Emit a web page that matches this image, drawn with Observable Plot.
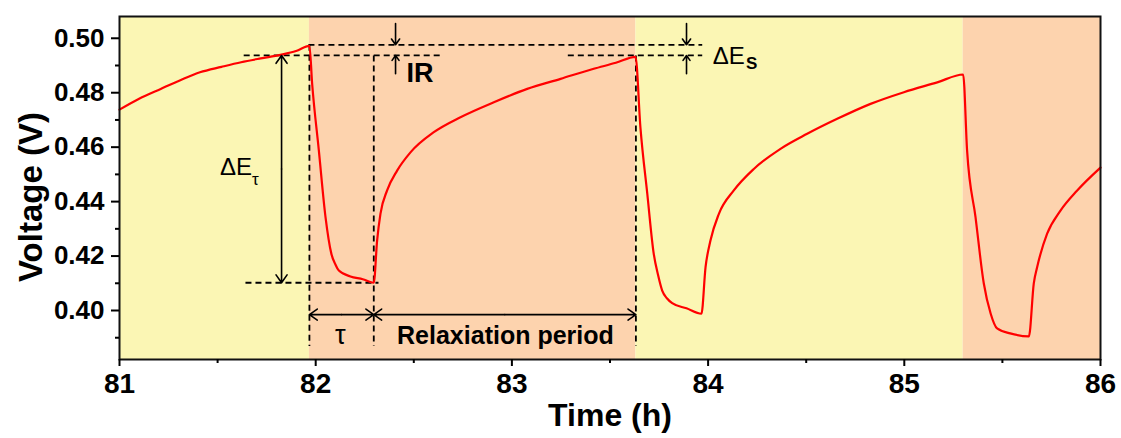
<!DOCTYPE html>
<html>
<head>
<meta charset="utf-8">
<script src="https://cdn.jsdelivr.net/npm/d3@7"></script>
<script src="https://cdn.jsdelivr.net/npm/@observablehq/plot@0.6"></script>
<style>
  html, body { margin: 0; padding: 0; background: #fff; }
  #chart svg { display: block; }
</style>
</head>
<body>
<div id="chart"></div>
<script>
// ---- Data ----
const timeH = [
  81.00, 81.10, 81.21, 81.31, 81.41, 81.52, 81.62, 81.72, 81.82, 81.90, 81.968,
  81.982, 82.016, 82.050, 82.080, 82.100, 82.118, 82.177, 82.240, 82.296,
  82.313, 82.330, 82.364, 82.415, 82.483, 82.602, 82.738, 82.908, 83.078, 83.248, 83.417, 83.530, 83.630,
  83.655, 83.690, 83.723, 83.745, 83.766, 83.790, 83.817, 83.890, 83.966,
  83.987, 84.012, 84.055, 84.131, 84.233, 84.369, 84.505, 84.658, 84.828, 84.998, 85.168, 85.300,
  85.320, 85.363, 85.405, 85.440, 85.473, 85.540, 85.635,
  85.660, 85.677, 85.728, 85.796, 85.880, 86.000
];
const voltageV = [
  0.4738, 0.4778, 0.4814, 0.4846, 0.4875, 0.4895, 0.4912, 0.4926, 0.4939, 0.4953, 0.4972,
  0.4832, 0.4588, 0.4343, 0.4208, 0.4170, 0.4147, 0.4125, 0.4115, 0.4102,
  0.4257, 0.4355, 0.4441, 0.4514, 0.4581, 0.4655, 0.4710, 0.4765, 0.4814, 0.4851, 0.4888, 0.4910, 0.4932,
  0.4673, 0.4429, 0.4208, 0.4130, 0.4073, 0.4045, 0.4027, 0.4008, 0.3988,
  0.4159, 0.4257, 0.4355, 0.4441, 0.4520, 0.4594, 0.4649, 0.4704, 0.4759, 0.4802, 0.4838, 0.4867,
  0.4588, 0.4343, 0.4100, 0.3989, 0.3934, 0.3916, 0.3905,
  0.4100, 0.4159, 0.4282, 0.4367, 0.4440, 0.4525
];

// background phases
const bandStart = [81.0, 81.968, 83.632, 85.30];
const bandEnd   = [81.968, 83.632, 85.30, 86.0];
const bandPhase = ["A", "B", "A", "B"];

// axes
const xTicks = [81, 82, 83, 84, 85, 86];
const xMinor = [81.5, 82.5, 83.5, 84.5, 85.5];
const yTicks = [0.40, 0.42, 0.44, 0.46, 0.48, 0.50];
const yMinor = [0.39, 0.41, 0.43, 0.45, 0.47, 0.49];

// annotation levels / times
const vTop = 0.4976, vIR = 0.4937, vLow = 0.4102, vBase = 0.3870;
const tPulseStart = 81.968, tPulseEnd = 82.296, tRelaxEnd = 83.632;
const dashX1 = [81.963, 81.633, 83.285, 81.642, tPulseStart, tPulseEnd, tRelaxEnd];
const dashX2 = [83.970, 82.645, 83.970, 82.320, tPulseStart, tPulseEnd, tRelaxEnd];
const dashY1 = [vTop, vIR, vIR, vLow, vTop, vIR, vIR];
const dashY2 = [vTop, vIR, vIR, vLow, vBase, vBase, vBase];

const arrowX1 = [81.826, 81.826, 82.407, 82.407, 83.890, 83.890, 82.132, 82.132, 82.964, 82.964];
const arrowX2 = [81.826, 81.826, 82.407, 82.407, 83.890, 83.890, tPulseStart, tPulseEnd, tPulseEnd, tRelaxEnd];
const arrowY1 = [0.4520, 0.4520, 0.5054, 0.4870, 0.5054, 0.4870, 0.3985, 0.3985, 0.3985, 0.3985];
const arrowY2 = [vIR, vLow, vTop, vIR, vTop, vIR, 0.3985, 0.3985, 0.3985, 0.3985];

// ---- Build tables ----
const series = timeH.map((t, i) => ({t, v: voltageV[i]}));
const bands = bandStart.map((s, i) => ({s, e: bandEnd[i], phase: bandPhase[i]}));
const dashes = dashX1.map((x1, i) => ({x1, x2: dashX2[i], y1: dashY1[i], y2: dashY2[i]}));
const arrows = arrowX1.map((x1, i) => ({x1, x2: arrowX2[i], y1: arrowY1[i], y2: arrowY2[i]}));

const FONT = "'Liberation Sans', Arial, Helvetica, sans-serif";
const xTickText = d => String(d);
const yTickText = d => d.toFixed(2);

const chart = Plot.plot({
  width: 1121,
  height: 438,
  marginLeft: 119,
  marginRight: 21,
  marginTop: 16,
  marginBottom: 79,
  style: {fontFamily: FONT, fontSize: "26px", background: "#fff", color: "#000"},
  x: {domain: [81, 86], axis: null},
  y: {domain: [0.382, 0.508], axis: null},
  color: {domain: ["A", "B"], range: ["#FBF6B4", "#FDD3AE"]},
  marks: [
    Plot.rect(bands, {x1: "s", x2: "e", fill: "phase"}),
    Plot.link(dashes, {x1: "x1", x2: "x2", y1: "y1", y2: "y2", stroke: "#000", strokeWidth: 1.8, strokeDasharray: "6,4"}),
    Plot.line(series, {x: "t", y: "v", stroke: "#ff0000", strokeWidth: 2.2, curve: "monotone-x"}),
    Plot.arrow(arrows, {x1: "x1", x2: "x2", y1: "y1", y2: "y2", stroke: "#000", strokeWidth: 1.6, headLength: 9, headAngle: 70}),
    // annotation text
    Plot.text(["IR"], {x: 82.463, y: 0.4870, textAnchor: "start", fontSize: 27, fontWeight: "bold", fill: "#000"}),
    Plot.text(["ΔE"], {x: 84.024, y: 0.4935, textAnchor: "start", fontSize: 24, fill: "#000"}),
    Plot.text(["S"], {x: 84.193, y: 0.4907, textAnchor: "start", fontSize: 17, fontWeight: "bold", fill: "#000"}),
    Plot.text(["ΔE"], {x: 81.512, y: 0.4525, textAnchor: "start", fontSize: 24, fill: "#000"}),
    Plot.text(["τ"], {x: 81.675, y: 0.4480, textAnchor: "start", fontSize: 17, fill: "#000"}),
    Plot.text(["τ"], {x: 82.126, y: 0.3910, fontSize: 27, fill: "#000"}),
    Plot.text(["Relaxiation period"], {x: 82.967, y: 0.3908, fontSize: 25, fontWeight: "bold", fill: "#000"}),
    // frame & axes
    Plot.frame({stroke: "#111", strokeWidth: 2}),
    Plot.axisX({ticks: xTicks, tickSize: 7, tickPadding: 7, tickFormat: xTickText, fontWeight: "bold", label: null, strokeWidth: 2}),
    Plot.axisX({ticks: xMinor, tickSize: 4, tickFormat: () => "", label: null, strokeWidth: 2}),
    Plot.axisY({ticks: yTicks, tickSize: 8, tickPadding: 7, tickFormat: yTickText, fontWeight: "bold", label: null, strokeWidth: 2}),
    Plot.axisY({ticks: yMinor, tickSize: 4, tickFormat: () => "", label: null, strokeWidth: 2}),
    Plot.text(["Time (h)"], {frameAnchor: "bottom", textAnchor: "middle", lineAnchor: "middle", dy: 56, fontSize: 32, fontWeight: "bold", fill: "#000"}),
    Plot.text(["Voltage (V)"], {frameAnchor: "left", rotate: -90, textAnchor: "middle", lineAnchor: "middle", dx: -88, dy: 9, fontSize: 33, fontWeight: "bold", fill: "#000"})
  ]
});

// tick label sizes (inline style)
const xSet = new Set(xTicks.map(xTickText));
const ySet = new Set(yTicks.map(yTickText));
d3.select(chart).selectAll("text").each(function () {
  const s = this.textContent;
  if (xSet.has(s)) d3.select(this).style("font-size", "28px");
  else if (ySet.has(s)) d3.select(this).style("font-size", "26px");
});

document.getElementById("chart").appendChild(chart);
</script>
</body>
</html>
